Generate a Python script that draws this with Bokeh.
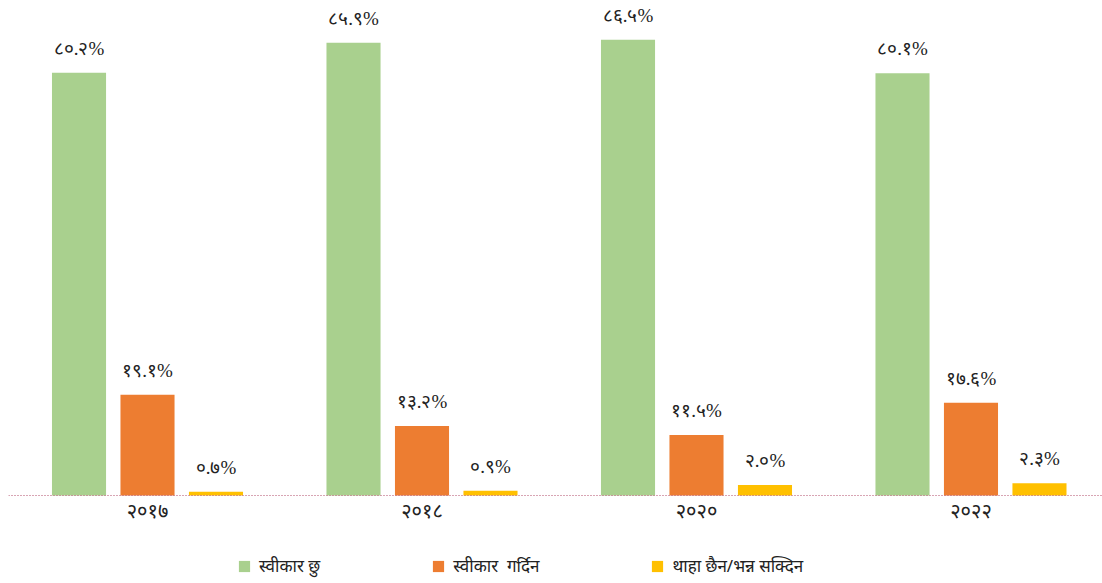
from bokeh.plotting import figure
from bokeh.models import ColumnDataSource, Range1d, FixedTicker, Legend, LegendItem, LabelSet
from bokeh.transform import dodge
from bokeh.embed import file_html
from bokeh.resources import INLINE

years = ["२०१७", "२०१८", "२०२०", "२०२२"]
accept = [80.2, 85.9, 86.5, 80.1]
reject = [19.1, 13.2, 11.5, 17.6]
dontknow = [0.7, 0.9, 2.0, 2.3]
accept_lbl = ["८०.२%", "८५.९%", "८६.५%", "८०.१%"]
reject_lbl = ["१९.१%", "१३.२%", "११.५%", "१७.६%"]
dontknow_lbl = ["०.७%", "०.९%", "२.०%", "२.३%"]
series_names = ["स्वीकार छु", "स्वीकार\u00a0 गर्दिन", "थाहा छैन/भन्न सक्दिन"]
colors = ["#a9d08e", "#ed7d31", "#ffc000"]

FONT = "Noto Sans"

src = ColumnDataSource(dict(
    x=list(range(len(years))),
    a=accept, r=reject, d=dontknow,
    al=accept_lbl, rl=reject_lbl, dl=dontknow_lbl,
))

p = figure(width=1102, height=583, output_backend="svg", toolbar_location=None,
           x_range=Range1d(-0.5064, 3.4791), y_range=Range1d(-16.70, 92.41),
           min_border_left=8, min_border_right=0, min_border_top=8, min_border_bottom=0)
p.outline_line_color = None
p.grid.visible = False
p.yaxis.visible = False

step = 0.2495
bw = 0.197
renderers = []
for off, col, lab, c in [(-step, "a", "al", colors[0]), (0, "r", "rl", colors[1]), (step, "d", "dl", colors[2])]:
    r = p.vbar(x=dodge("x", off, range=p.x_range), top=col, width=bw, bottom=0,
               source=src, fill_color=c, line_color=None)
    renderers.append(r)
    ls = LabelSet(x=dodge("x", off, range=p.x_range), y=col, text=lab, source=src,
                  text_align="center", text_baseline="bottom", y_offset=14,
                  text_font=FONT, text_font_size="19px", text_color="#222222")
    p.add_layout(ls)

ax = p.xaxis[0]
ax.fixed_location = 0
ax.ticker = FixedTicker(ticks=list(range(len(years))))
ax.major_label_overrides = {i: y for i, y in enumerate(years)}
ax.major_tick_line_color = None
ax.minor_tick_line_color = None
ax.axis_line_color = "#b04a68"
ax.axis_line_dash = "1 2"
ax.axis_line_width = 1
ax.major_label_text_font = FONT
ax.major_label_text_font_size = "20px"
ax.major_label_text_color = "#222222"
ax.major_label_standoff = -4

legend = Legend(items=[LegendItem(label=n, renderers=[r]) for n, r in zip(series_names, renderers)],
                orientation="horizontal", location=(229, 6), spacing=111,
                glyph_width=14, glyph_height=14, label_standoff=8,
                label_text_font=FONT, label_text_font_size="17px", label_text_color="#222222",
                border_line_color=None, background_fill_alpha=0, padding=0, margin=0)
p.add_layout(legend, "center")

open("out.html", "w").write(file_html(p, INLINE))
